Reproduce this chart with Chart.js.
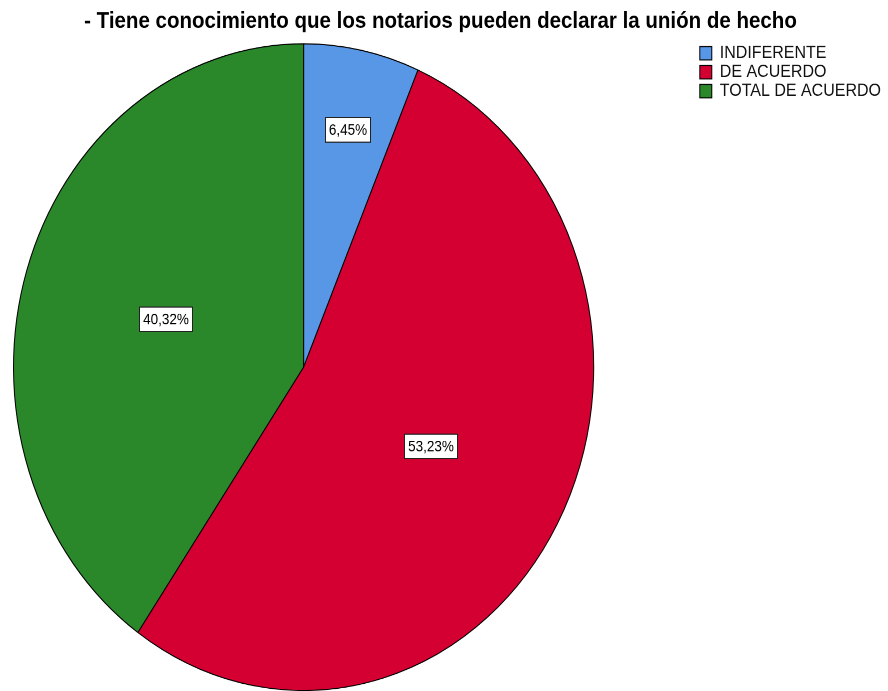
<!DOCTYPE html>
<html lang="es">
<head>
<meta charset="UTF-8">
<meta name="viewport" content="width=device-width, initial-scale=1.0">
<title>Notarios - unión de hecho</title>
<script src="https://cdn.jsdelivr.net/npm/chart.js"></script>
<style>
  html, body { margin: 0; padding: 0; background: #fff; }
  body { width: 888px; height: 691px; overflow: hidden; }
  /* el gráfico original viene estirado en vertical (la torta es una elipse) */
  #marco { width: 888px; height: 620px; transform: scaleY(1.1145); transform-origin: 0 0; }
</style>
</head>
<body>
<div id="marco"><canvas id="torta"></canvas></div>

<script>
  const titulo = '- Tiene conocimiento que los notarios pueden declarar la unión de hecho';
  const categorias = ['INDIFERENTE', 'DE ACUERDO', 'TOTAL DE ACUERDO'];
  const porcentajes = [6.45, 53.23, 40.32];

  const fuente = 'Liberation Sans, Arial, sans-serif';

  // la torta ocupa un cuadrado pegado a la izquierda del area libre
  const areaCuadrada = {
    id: 'areaCuadrada',
    afterLayout(chart, args, opts) {
      const a = chart.chartArea;
      a.left = opts.margen;
      a.width = a.height;
      a.right = a.left + a.height;
    }
  };

  // cajitas con el porcentaje de cada sector
  const etiquetas = {
    id: 'etiquetas',
    afterDatasetsDraw(chart) {
      const ctx = chart.ctx;
      const meta = chart.getDatasetMeta(0);
      ctx.save();
      ctx.font = '13.5px ' + fuente;
      ctx.textAlign = 'center';
      ctx.textBaseline = 'middle';
      meta.data.forEach((arc, i) => {
        const p = arc.getProps(['x', 'y', 'startAngle', 'endAngle', 'outerRadius'], true);
        const medio = (p.startAngle + p.endAngle) / 2;
        const f = porcentajes[i] < 10 ? 0.75 : 0.5;
        const x = p.x + Math.cos(medio) * p.outerRadius * f;
        const y = p.y + Math.sin(medio) * p.outerRadius * f;
        const txt = porcentajes[i].toFixed(2).replace('.', ',') + '%';
        const w = Math.round(ctx.measureText(txt).width + 7);
        const h = 22;
        const bx = Math.round(x - w / 2) + 0.5;
        const by = Math.round(y - h / 2) + 0.5;
        ctx.fillStyle = '#fff';
        ctx.fillRect(bx, by, w, h);
        ctx.strokeStyle = '#222';
        ctx.lineWidth = 1;
        ctx.strokeRect(bx, by, w, h);
        ctx.fillStyle = '#000';
        ctx.fillText(txt, bx + w / 2, by + h / 2 + 1);
      });
      ctx.restore();
    }
  };

  new Chart(document.getElementById('torta'), {
    type: 'pie',
    data: {
      labels: categorias,
      datasets: [{
        data: porcentajes,
        backgroundColor: ['#5896E6', '#D50032', '#2A872A'],
        borderColor: '#000',
        borderWidth: 1
      }]
    },
    options: {
      responsive: true,
      maintainAspectRatio: false,
      animation: false,
      devicePixelRatio: 2,
      layout: { padding: { left: -10, right: -3, top: 0, bottom: 0 } },
      plugins: {
        areaCuadrada: { margen: 13 },
        title: {
          display: true,
          text: titulo,
          color: '#000',
          font: { family: fuente, size: 20.5, weight: 'bold' },
          padding: { top: 7.2, bottom: 7 }
        },
        legend: {
          position: 'right',
          align: 'start',
          fullSize: false,
          labels: {
            boxWidth: 12,
            boxHeight: 12,
            padding: 1,
            color: '#111',
            font: { family: fuente, size: 16 }
          }
        },
        tooltip: { enabled: false }
      }
    },
    plugins: [areaCuadrada, etiquetas]
  });
</script>
</body>
</html>
